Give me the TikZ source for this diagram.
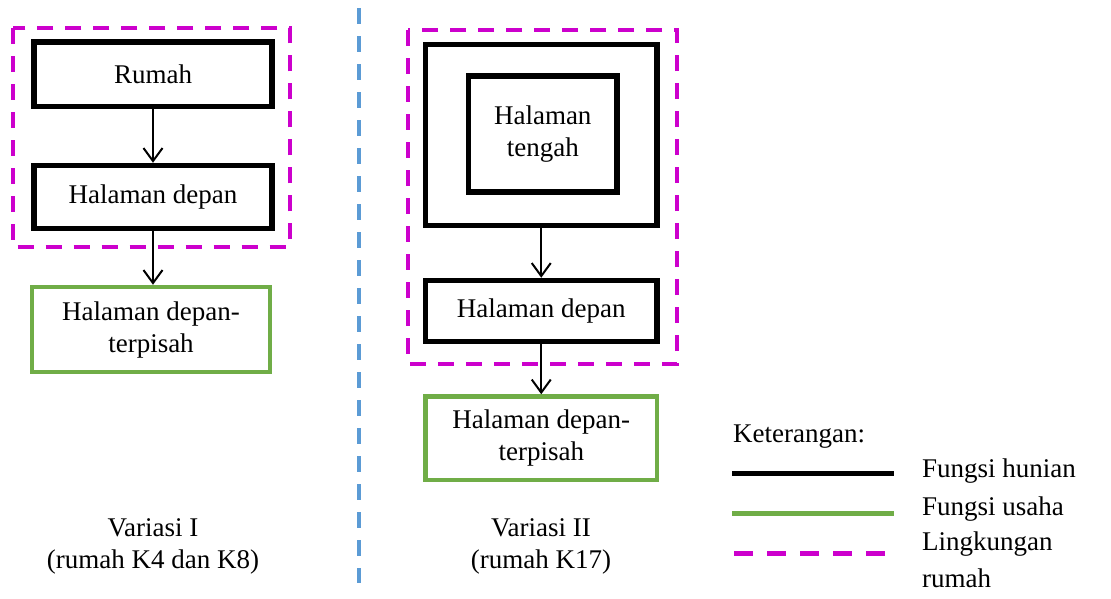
\documentclass[tikz,border=0pt]{standalone}
\usepackage{fontspec}
\setmainfont{Liberation Serif}
\usetikzlibrary{arrows.meta}
\definecolor{mag}{HTML}{CC00CC}
\definecolor{grn}{HTML}{70AD47}
\definecolor{blu}{HTML}{5B9BD5}
\begin{document}
\begin{tikzpicture}[x=1pt,y=-1pt,
  txt/.style={font=\fontsize{27}{32}\selectfont, align=center},
  hunian/.style={txt, draw=black, line width=5.5pt, inner sep=0pt},
  usaha/.style={txt, draw=grn, line width=4.5pt, inner sep=0pt},
  lingk/.style={draw=mag, line width=4pt, dash pattern=on 16pt off 12pt},
  flow/.style={line width=2pt, -{Straight Barb[length=13pt,width=19pt,line width=2pt]}},
  lbl/.style={font=\fontsize{27}{32}\selectfont, inner sep=0pt},
]
\useasboundingbox (0,0) rectangle (1111,598);

% ---- Variasi I ----
\draw[lingk] (12.7,28) rectangle (290,247);
\node[hunian, minimum width=238pt, minimum height=64.5pt] (rumah) at (153,74) {Rumah};
\node[hunian, minimum width=238pt, minimum height=63pt] (hd1) at (153,197) {Halaman depan};
\node[usaha, minimum width=238pt, minimum height=85pt] (hdt1) at (151,329.5) {Halaman depan-\\terpisah};
\draw[flow] (rumah.south) -- (hd1.north);
\draw[flow] (hd1.south) -- (hdt1.north -| hd1.south);
\node[txt, inner sep=0pt] (v1) at (153,546) {Variasi I\\(rumah K4 dan K8)};

% ---- separator ----
\draw[draw=blu, line width=3.5pt, dash pattern=on 16pt off 12pt] (359,8) -- (359,583);

% ---- Variasi II ----
\draw[lingk] (408,30) rectangle (677,364);
\node[hunian, minimum width=231.5pt, minimum height=181pt] (rumah2) at (541.25,135) {};
\node[hunian, minimum width=148.5pt, minimum height=116pt] (ht) at (542.75,134) {Halaman\\tengah};
\node[hunian, minimum width=231.5pt, minimum height=61pt] (hd2) at (541.25,311) {Halaman depan};
\node[usaha, minimum width=231.5pt, minimum height=83.5pt] (hdt2) at (541.25,438.25) {Halaman depan-\\terpisah};
\draw[flow] (rumah2.south) -- (hd2.north);
\draw[flow] (hd2.south) -- (hdt2.north);
\node[txt, inner sep=0pt] (v2) at (541,546) {Variasi II\\(rumah K17)};

% ---- Keterangan ----
\node[lbl, anchor=mid west] (ket) at (733,440) {Keterangan:};
\draw[black, line width=5pt] (732,473) -- (894,473);
\draw[grn, line width=5pt] (732,513) -- (894,513);
\draw[mag, line width=5pt, dash pattern=on 19pt off 14pt] (734,553) -- (885,553);
\node[lbl, anchor=mid west] (l1) at (922,475) {Fungsi hunian};
\node[lbl, anchor=mid west] (l2) at (922,513) {Fungsi usaha};
\node[lbl, anchor=mid west] (l3) at (922,548) {Lingkungan};
\node[lbl, anchor=mid west] (l4) at (922,585) {rumah};
\end{tikzpicture}
\end{document}
